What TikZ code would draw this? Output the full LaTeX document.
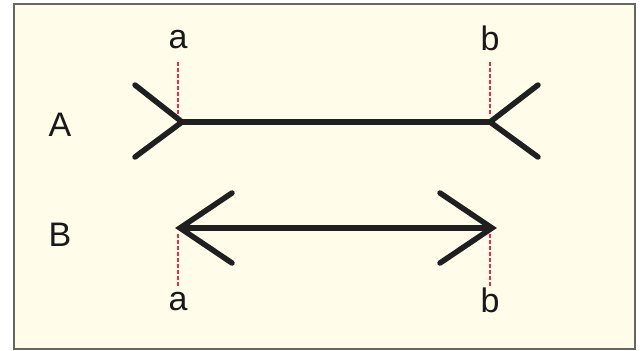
\documentclass[tikz,border=0pt]{standalone}
\usepackage{fontspec}
\setmainfont{Liberation Sans}
\begin{document}
\begin{tikzpicture}[x=1pt,y=-1pt,
  fin/.style={line width=5.5pt, color=black!88, line cap=round, line join=miter},
  shaft/.style={line width=6.5pt, color=black!88},
  guide/.style={color={rgb,255:red,240;green,40;blue,70}, line width=1.3pt, dash pattern=on 4pt off 2pt},
  lbl/.style={font=\fontsize{34}{34}\selectfont, text=black!90, inner sep=0pt}]
\useasboundingbox (0,0) rectangle (641,351);
\definecolor{cream}{RGB}{255,252,234}
\fill[white] (0,0) rectangle (641,351);
\draw[fill=cream, draw=black!60, line width=2pt] (14,4) rectangle (635,349);
% A
\coordinate (a1) at (182,122);
\coordinate (b1) at (490,122);
\coordinate (a1u) at (135,85);
\coordinate (a1d) at (135,157);
\coordinate (b1u) at (538,85);
\coordinate (b1d) at (538,157);
\draw[shaft] (a1) -- (b1);
\draw[fin] (a1u) -- (a1) -- (a1d);
\draw[fin] (b1u) -- (b1) -- (b1d);
% B
\coordinate (a2) at (180,228);
\coordinate (b2) at (492,228);
\coordinate (a2u) at (232,193);
\coordinate (a2d) at (232,263);
\coordinate (b2u) at (440,193);
\coordinate (b2d) at (440,263);
\draw[shaft] (a2) -- (b2);
\draw[fin] (a2u) -- (a2) -- (a2d);
\draw[fin] (b2u) -- (b2) -- (b2d);
% guides
\coordinate (ga1) at (178,62);
\coordinate (ga1e) at (178,116);
\coordinate (gb1) at (490,62);
\coordinate (gb1e) at (490,116);
\coordinate (ga2) at (178,234);
\coordinate (ga2e) at (178,287);
\coordinate (gb2) at (490,234);
\coordinate (gb2e) at (490,287);
\draw[guide] (ga1) -- (ga1e);
\draw[guide] (gb1) -- (gb1e);
\draw[guide] (ga2) -- (ga2e);
\draw[guide] (gb2) -- (gb2e);
% labels
\node[lbl] (la1) at (178,40) {a};
\node[lbl] (lb1) at (490,38) {b};
\node[lbl] (lA) at (60,125) {A};
\node[lbl] (lB) at (60,235) {B};
\node[lbl] (la2) at (178,302) {a};
\node[lbl] (lb2) at (490,300) {b};
\end{tikzpicture}
\end{document}
